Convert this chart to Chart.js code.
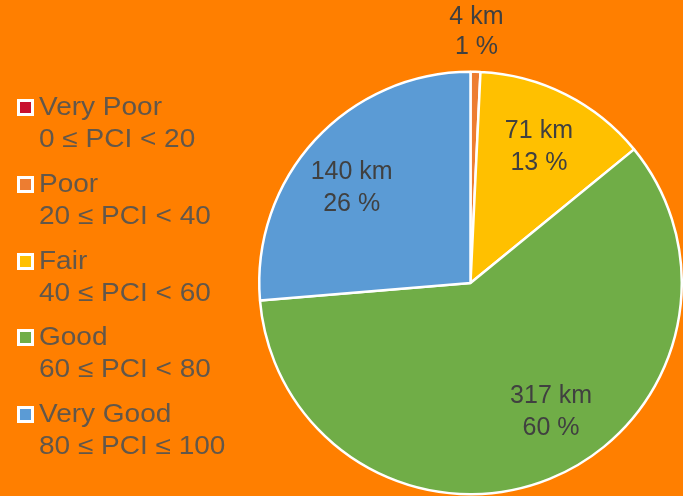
<!DOCTYPE html>
<html>
<head>
<meta charset="utf-8">
<script src="https://cdn.jsdelivr.net/npm/chart.js@4/dist/chart.umd.min.js"></script>
<style>
  html, body { margin: 0; padding: 0; background: #FF7F00; }
  #wrap { position: relative; width: 683px; height: 496px; overflow: hidden; }
  #wrap canvas { position: absolute; left: 0; top: 0; }
  .legend-item { position: absolute; left: 0; }
  .legend-box { position: absolute; left: 17px; width: 11px; height: 11px; border: 3px solid #fff; }
  .legend-text { position: absolute; left: 39px; font: 25px "Liberation Sans", Arial, sans-serif;
    line-height: 32px; color: #62574a; white-space: nowrap; transform: scaleX(1.12); transform-origin: left top; }
</style>
</head>
<body>
<div id="wrap">
  <canvas id="pciChart" width="683" height="496"></canvas>
  <div id="legend"></div>
</div>
<script>
// pavement condition by PCI class, lengths in km
const categories = ['Very Poor', 'Poor', 'Fair', 'Good', 'Very Good'];
const pciRanges = ['0 ≤ PCI < 20', '20 ≤ PCI < 40', '40 ≤ PCI < 60', '60 ≤ PCI < 80', '80 ≤ PCI ≤ 100'];
const lengthsKm = [0, 4, 71, 317, 140];

const sliceColors = ['#C8102E', '#ED7D31', '#FFC000', '#70AD47', '#5B9BD5'];

// build the html legend (two lines per class)
function buildLegend() {
    const legend = document.getElementById('legend');
    categories.forEach((name, i) => {
        const top = 90 + i * 76.75;
        const box = document.createElement('div');
        box.className = 'legend-box';
        box.style.top = (top + 9) + 'px';
        box.style.background = sliceColors[i];
        const text = document.createElement('div');
        text.className = 'legend-text';
        text.style.top = top + 'px';
        text.innerHTML = name + '<br>' + pciRanges[i];
        legend.appendChild(box);
        legend.appendChild(text);
    });
}

// km + percent labels, best-fit style
const sliceLabels = {
    id: 'sliceLabels',
    afterDatasetsDraw(chart) {
        const ctx = chart.ctx;
        const meta = chart.getDatasetMeta(0);
        const total = lengthsKm.reduce((a, b) => a + b, 0);
        const nudge = { 3: -10, 4: -4 }; // degrees, like excel's best fit
        ctx.save();
        ctx.font = '25px "Liberation Sans", Arial, sans-serif';
        ctx.fillStyle = '#404040';
        ctx.textAlign = 'center';
        ctx.textBaseline = 'middle';
        meta.data.forEach((arc, i) => {
            const v = lengthsKm[i];
            if (!v) return;
            const p = arc.getProps(['x', 'y', 'startAngle', 'endAngle', 'outerRadius'], true);
            const share = v / total;
            const mid = (p.startAngle + p.endAngle) / 2 + (nudge[i] || 0) * Math.PI / 180;
            const outside = share < 0.03;
            const f = outside ? 1.19 : 0.72;
            const cx = p.x + Math.cos(mid) * p.outerRadius * f;
            const cy = p.y + Math.sin(mid) * p.outerRadius * f;
            const gap = outside ? 15 : 16;
            ctx.fillText(v + ' km', cx, cy - gap);
            ctx.fillText(Math.round(share * 100) + ' %', cx, cy + gap);
        });
        ctx.restore();
    }
};

window.addEventListener('DOMContentLoaded', () => {
    buildLegend();
    const ctx = document.getElementById('pciChart').getContext('2d');
    new Chart(ctx, {
        type: 'pie',
        data: {
            labels: categories,
            datasets: [{
                data: lengthsKm,
                backgroundColor: sliceColors,
                borderColor: '#ffffff',
                borderWidth: 2.5
            }]
        },
        options: {
            responsive: false,
            animation: false,
            layout: { padding: { left: 258, top: 70, right: 0, bottom: 0 } },
            plugins: {
                legend: { display: false },
                tooltip: { enabled: false }
            }
        },
        plugins: [sliceLabels]
    });
});
</script>
</body>
</html>
